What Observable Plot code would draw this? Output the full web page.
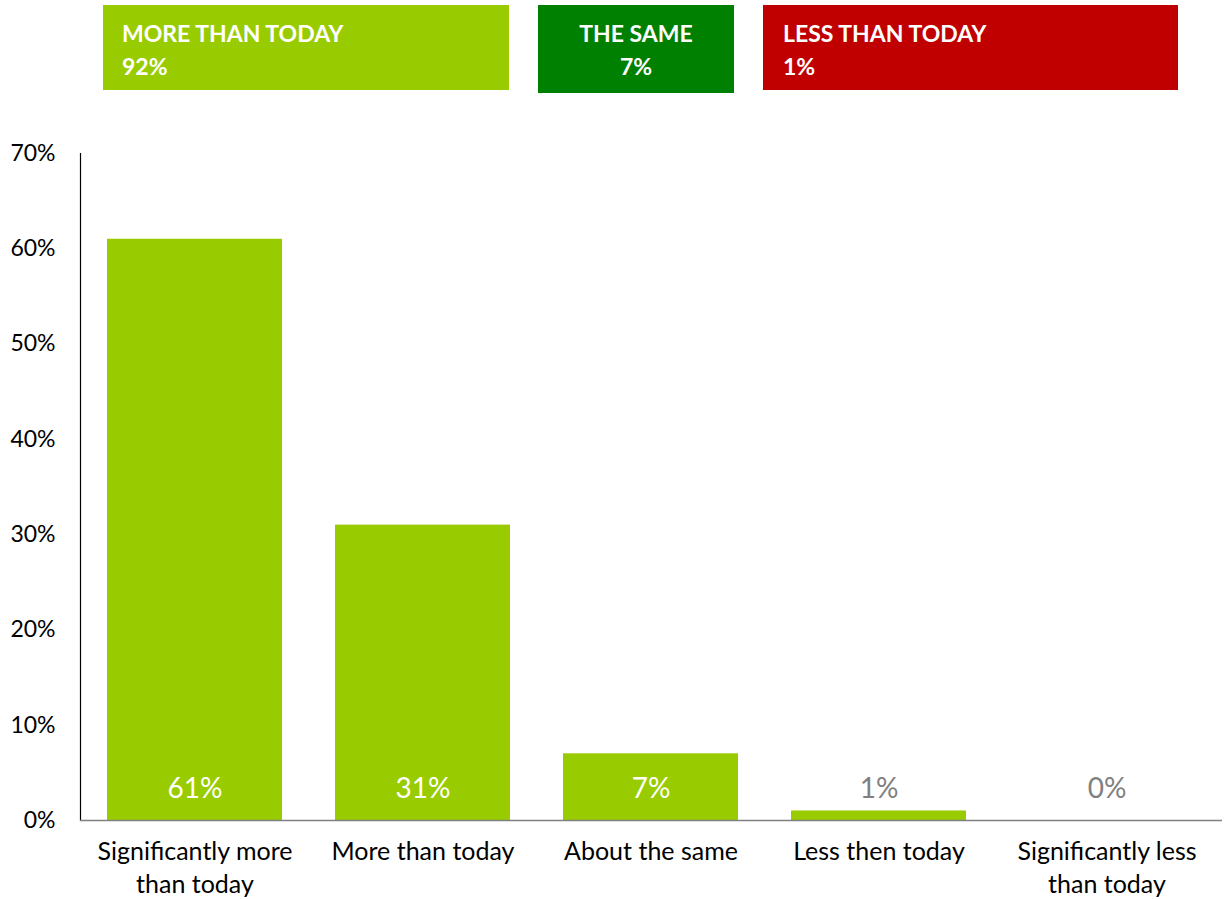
<!DOCTYPE html>
<html>
<head>
<meta charset="utf-8">
<script src="https://cdn.jsdelivr.net/npm/d3@7"></script>
<script src="https://cdn.jsdelivr.net/npm/@observablehq/plot@0.6"></script>
<style>
  html, body { margin: 0; padding: 0; background: #fff; }
  body { width: 1225px; height: 899px; position: relative; overflow: hidden; font-family: Lato, "Open Sans", sans-serif; }
  #header { position: relative; height: 120px; }
  .box { position: absolute; color: #fff; font-weight: bold; font-size: 23px; line-height: 33px; box-sizing: border-box; }
  #chart { position: absolute; left: 0; top: 120px; }
</style>
</head>
<body>
<div id="header"></div>
<div id="chart"></div>
<script>
// Data
const categories = ["Significantly more than today", "More than today", "About the same", "Less then today", "Significantly less than today"];
const tickLabels = ["Significantly more\nthan today", "More than today", "About the same", "Less then today", "Significantly less\nthan today"];
const values = [0.61, 0.31, 0.07, 0.01, 0.00];
const valueLabels = ["61%", "31%", "7%", "1%", "0%"];
const groupLabels = ["MORE THAN TODAY", "THE SAME", "LESS THAN TODAY"];
const groupValues = ["92%", "7%", "1%"];
const groupColors = ["#99CC00", "#008000", "#C00000"];
const barColor = "#99CC00";

// Header boxes (summary legend)
const boxLayout = [
  {left: 103, top: 5, width: 406, height: 85, align: "left", pad: 19},
  {left: 538, top: 5, width: 196, height: 88, align: "center", pad: 0},
  {left: 763, top: 5, width: 415, height: 85, align: "left", pad: 20}
];
const header = document.getElementById("header");
groupLabels.forEach((g, i) => {
  const L = boxLayout[i];
  const d = document.createElement("div");
  d.className = "box";
  Object.assign(d.style, {
    left: L.left + "px", top: L.top + "px", width: L.width + "px", height: L.height + "px",
    background: groupColors[i], textAlign: L.align, paddingLeft: L.pad + "px", paddingTop: "12px"
  });
  d.innerHTML = `<div>${g}</div><div>${groupValues[i]}</div>`;
  header.appendChild(d);
});

const data = categories.map((c, i) => ({category: c, value: values[i], label: valueLabels[i], tick: tickLabels[i]}));
const tickMap = new Map(data.map(d => [d.category, d.tick]));

const chart = Plot.plot({
  width: 1225,
  height: 779,
  marginTop: 33,
  marginBottom: 79,
  marginLeft: 80,
  marginRight: 3,
  style: {fontFamily: "Lato, 'Open Sans', sans-serif", fontSize: "23px", color: "#000", background: "#fff"},
  x: {domain: categories, paddingInner: 0.232, paddingOuter: 0.118, label: null},
  y: {domain: [0, 0.7], label: null},
  marks: [
    Plot.barY(data, {x: "category", y: "value", fill: barColor}),
    Plot.frame({anchor: "left", stroke: "#000", strokeWidth: 1.2}),
    Plot.ruleY([0], {stroke: "#808080", strokeWidth: 1.5}),
    Plot.axisY({ticks: d3.range(0, 0.71, 0.1), tickFormat: d => Math.round(d * 100) + "%", tickSize: 0, tickPadding: 25, fontSize: 23, label: null}),
    Plot.axisX({tickSize: 0, tickPadding: 16, fontSize: 25, lineHeight: 1.32, tickFormat: d => tickMap.get(d), label: null}),
    Plot.text(data, {x: "category", y: 0, text: "label", dy: -31, fontSize: 28, fill: d => d.value >= 0.05 ? "#fff" : "#808080"})
  ]
});
document.getElementById("chart").appendChild(chart);
</script>
</body>
</html>
